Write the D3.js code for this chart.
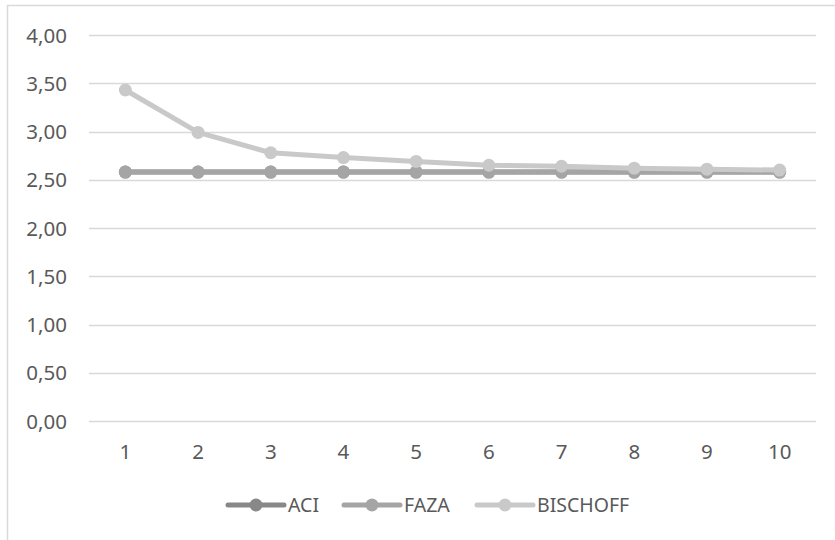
<!DOCTYPE html>
<html>
<head>
<meta charset="utf-8">
<script src="https://cdn.jsdelivr.net/npm/d3@7"></script>
<style>
  body { margin: 0; background: #fff; }
  text { font-family: "Noto Sans", sans-serif; fill: #595959; }
</style>
</head>
<body>
<div id="chart"></div>
<script>
    // chart values
    var categories = ["1", "2", "3", "4", "5", "6", "7", "8", "9", "10"];
    var aci = [2.58, 2.58, 2.58, 2.58, 2.58, 2.58, 2.58, 2.58, 2.58, 2.58];
    var faza = [2.58, 2.58, 2.58, 2.58, 2.58, 2.58, 2.58, 2.58, 2.58, 2.58];
    var bischoff = [3.43, 2.99, 2.78, 2.73, 2.69, 2.65, 2.64, 2.62, 2.61, 2.60];
    var yTicks = [0, 0.5, 1, 1.5, 2, 2.5, 3, 3.5, 4];

    var series = [
        {name: "ACI", values: aci, color: "#888888"},
        {name: "FAZA", values: faza, color: "#a5a5a5"},
        {name: "BISCHOFF", values: bischoff, color: "#c9c9c9"}
    ];

    var width = 835,
        height = 540;

    var svg = d3.select("#chart").append("svg")
        .attr("width", width)
        .attr("height", height);

    // chart area border (only left and top are inside the picture)
    svg.append("path")
        .attr("d", "M7.5," + height + "V5.5H" + width)
        .attr("fill", "none")
        .attr("stroke", "#d9d9d9")
        .attr("stroke-width", 1.5);

    var x = d3.scaleBand().domain(categories).range([89, 816]);
    var y = d3.scaleLinear().domain([0, 4]).range([421, 35]);

    // gridlines
    svg.append("g").selectAll("line")
        .data(yTicks)
        .enter().append("line")
        .attr("x1", 89)
        .attr("x2", 816)
        .attr("y1", function (d) { return Math.round(y(d)) + 0.5; })
        .attr("y2", function (d) { return Math.round(y(d)) + 0.5; })
        .attr("stroke", "#d9d9d9")
        .attr("stroke-width", 1.5);

    var fmt = function (d) { return d3.format(".2f")(d).replace(".", ","); };

    var yAxis = svg.append("g")
        .attr("transform", "translate(67,0)")
        .call(d3.axisLeft(y).tickValues(yTicks).tickFormat(fmt).tickSize(0).tickPadding(0));
    yAxis.select(".domain").remove();
    yAxis.selectAll("text")
        .style("font-size", "20.5px")
        .attr("fill", "#595959")
        .attr("dy", "0.35em");

    var xAxis = svg.append("g")
        .attr("transform", "translate(0,421)")
        .call(d3.axisBottom(x).tickSize(0).tickPadding(0));
    xAxis.select(".domain").remove();
    xAxis.selectAll("text")
        .style("font-size", "20.5px")
        .attr("fill", "#595959")
        .attr("dy", "1.85em");

    var line = d3.line()
        .x(function (d, i) { return x(categories[i]) + x.bandwidth() / 2; })
        .y(function (d) { return y(d); });

    series.forEach(function (s) {
        var g = svg.append("g");
        g.append("path")
            .datum(s.values)
            .attr("d", line)
            .attr("fill", "none")
            .attr("stroke", s.color)
            .attr("stroke-width", 5)
            .attr("stroke-linejoin", "round");
        g.selectAll("circle")
            .data(s.values)
            .enter().append("circle")
            .attr("cx", function (d, i) { return x(categories[i]) + x.bandwidth() / 2; })
            .attr("cy", function (d) { return y(d); })
            .attr("r", 6.5)
            .attr("fill", s.color);
    });

    // legend
    var legendX = [228, 344, 477];
    var legend = svg.append("g").selectAll("g")
        .data(series)
        .enter().append("g")
        .attr("transform", function (d, i) { return "translate(" + legendX[i] + ",505)"; });
    legend.append("line")
        .attr("x1", 0).attr("x2", 56)
        .attr("stroke", function (d) { return d.color; })
        .attr("stroke-width", 5)
        .attr("stroke-linecap", "round");
    legend.append("circle")
        .attr("cx", 28)
        .attr("r", 6.5)
        .attr("fill", function (d) { return d.color; });
    legend.append("text")
        .attr("x", 60)
        .attr("dy", "0.35em")
        .style("font-size", "19.5px")
        .text(function (d) { return d.name; });
</script>
</body>
</html>
